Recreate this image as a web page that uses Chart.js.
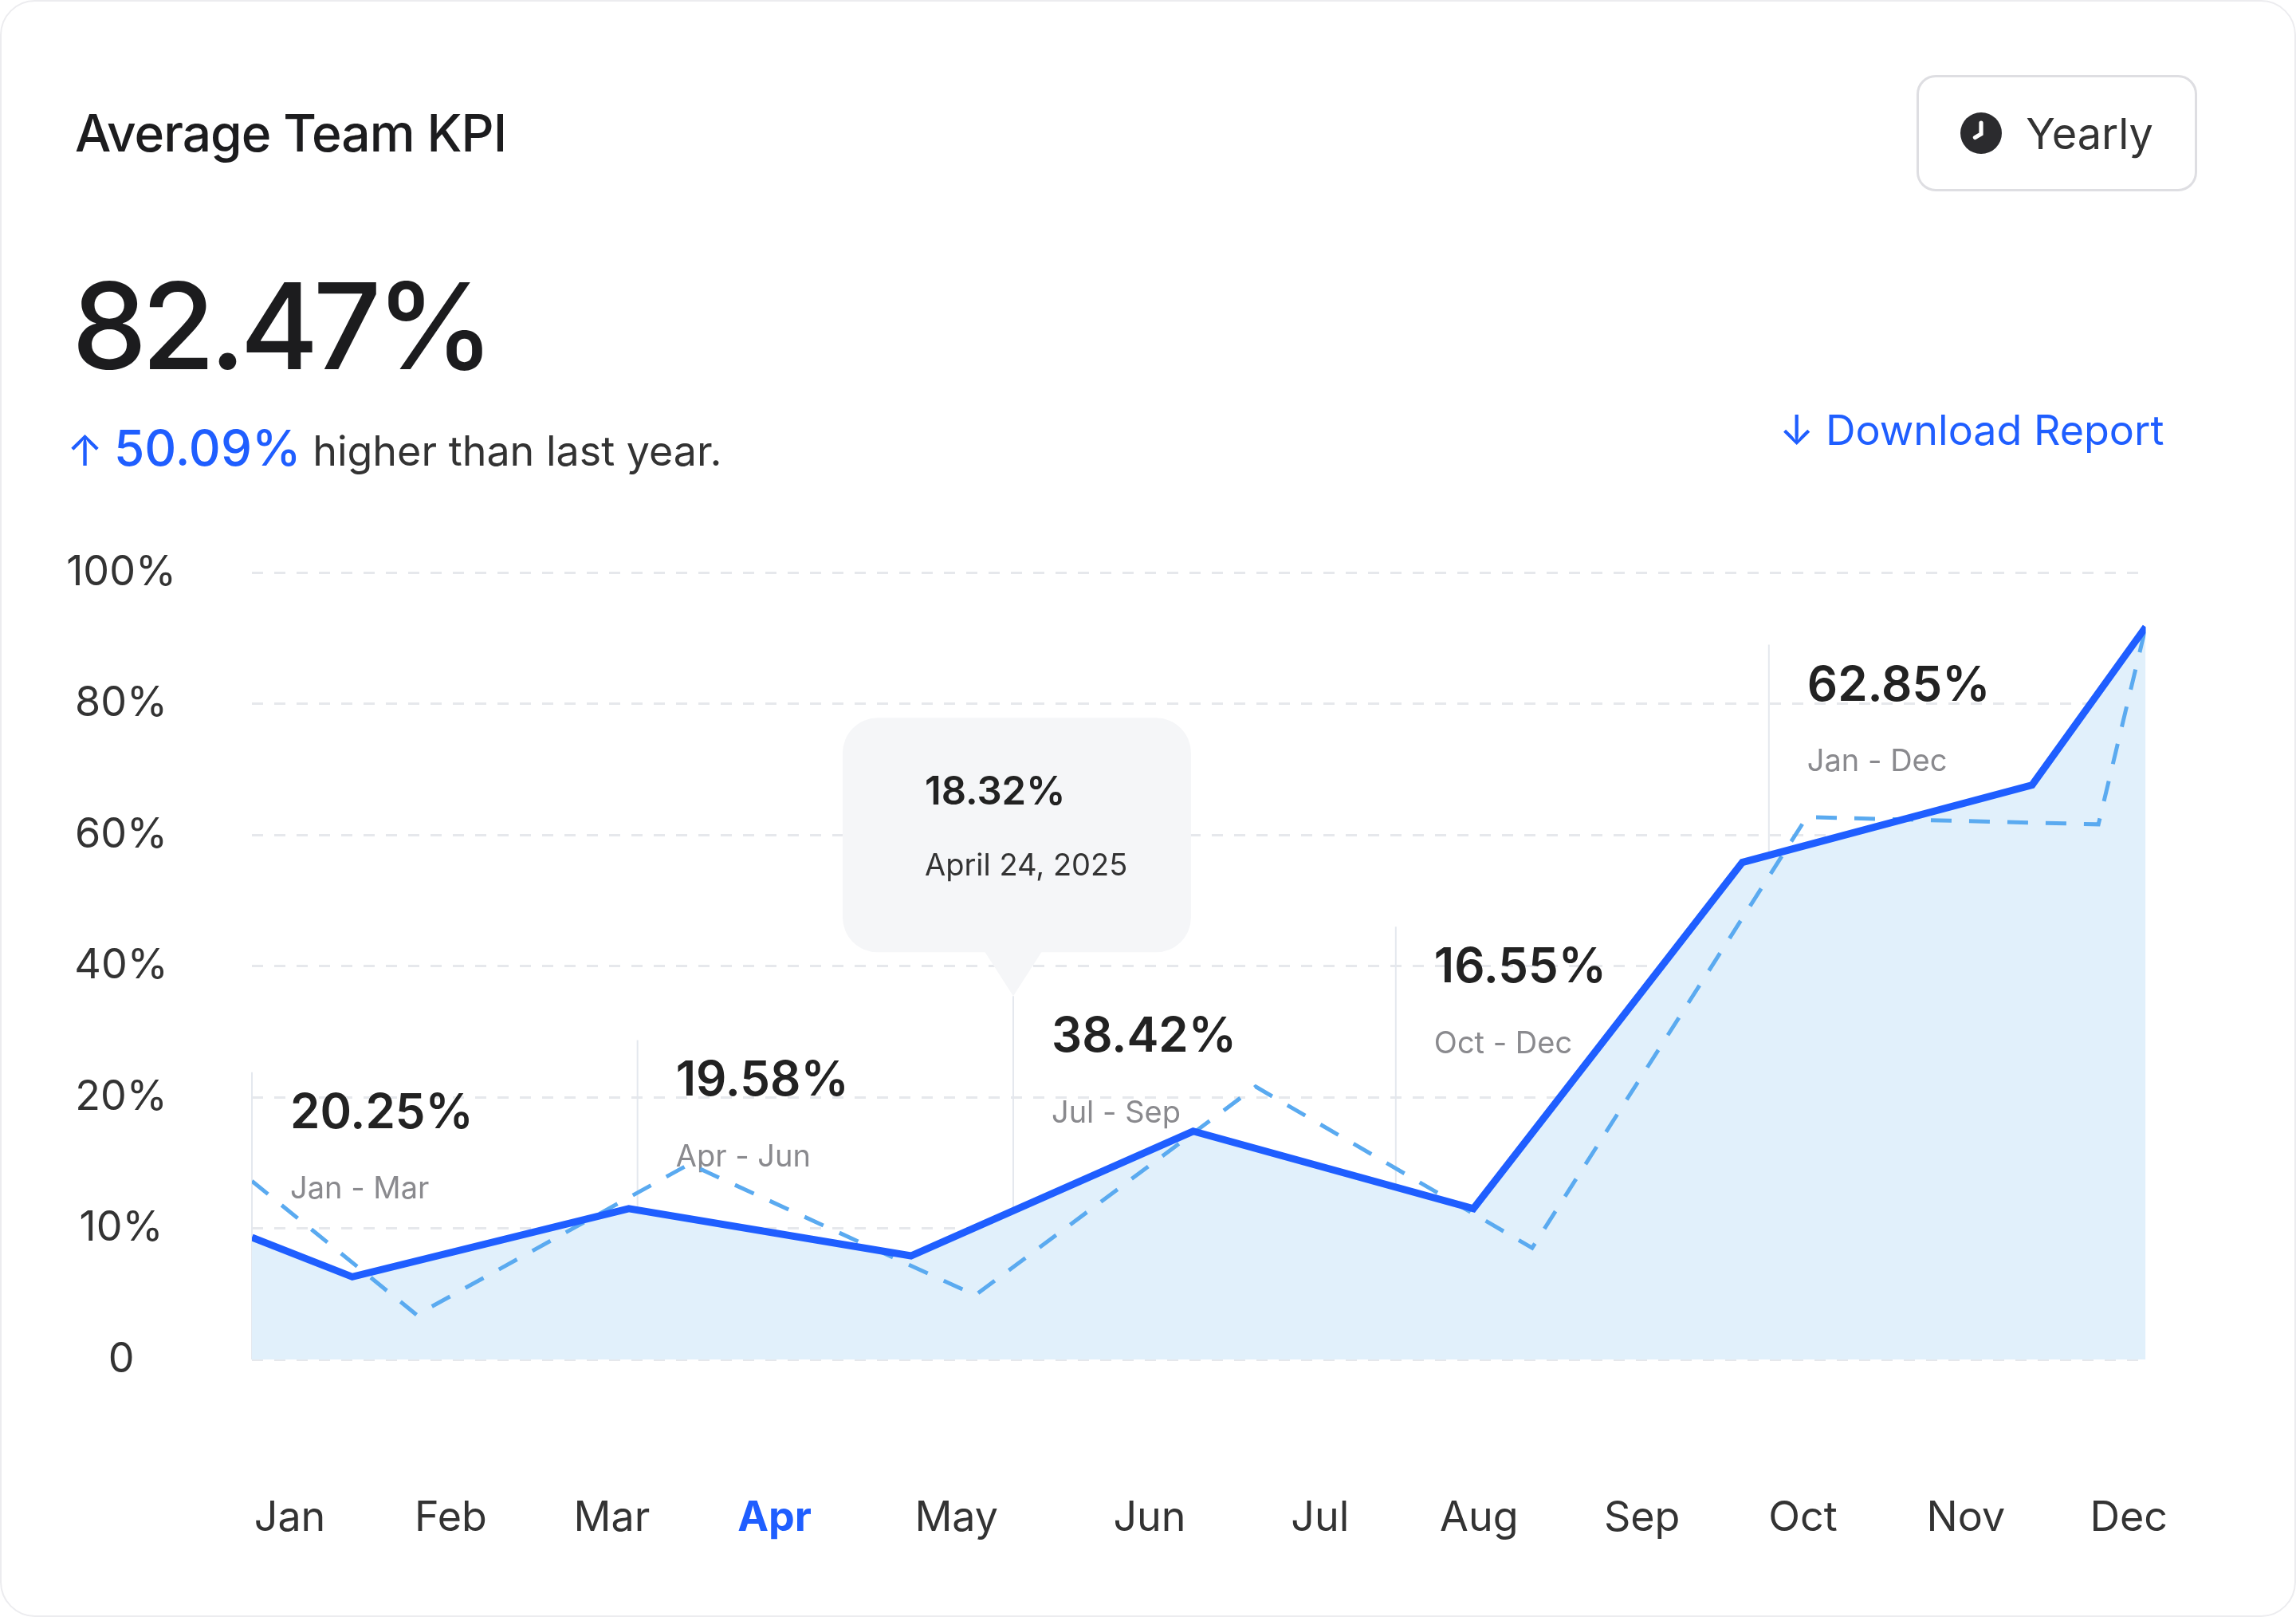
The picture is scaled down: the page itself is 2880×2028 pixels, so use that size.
<!DOCTYPE html>
<html><head><meta charset="utf-8">
<script src="https://cdn.jsdelivr.net/npm/chart.js@4"></script>
<style>
html,body{margin:0;padding:0;background:#fff;}
body{width:2880px;height:2028px;position:relative;overflow:hidden;font-family:Inter,"Noto Sans",sans-serif;color:#1c1c1e;}
.card{position:absolute;left:0;top:0;width:2876px;height:2024px;border:2px solid #ececef;border-radius:44px;}
#title{position:absolute;left:94px;top:128px;font-size:64px;font-weight:500;letter-spacing:-1px;}
#big{position:absolute;left:90px;top:318px;font-size:150px;font-weight:500;letter-spacing:-7px;}
#sub{position:absolute;left:84px;top:524px;font-size:52px;color:#333;}
#sub .up{color:#1f5eff;font-size:54px;margin-right:14px;}
#sub .pct{color:#1f5eff;font-size:62px;font-weight:500;}
#btn{position:absolute;left:2404px;top:94px;width:352px;height:146px;border:3px solid #dedee2;border-radius:24px;box-sizing:border-box;display:flex;align-items:center;justify-content:center;font-size:54px;color:#333;}
#btn svg{margin-right:30px;}
#dl{position:absolute;left:2232px;top:508px;font-size:52px;color:#1f5eff;}
canvas{position:absolute;left:0;top:0;}
</style></head><body>
<div class="card"></div>
<div id="title">Average Team KPI</div>
<div id="big">82.47%</div>
<div id="sub"><span class="up">↑</span><span class="pct">50.09%</span> higher than last year.</div>
<div id="btn"><svg width="52" height="52" viewBox="0 0 24 24"><circle cx="12" cy="12" r="12" fill="#2b2b2e"/><path d="M12 6v6.5l-3.5 2" stroke="#fff" stroke-width="2.4" fill="none" stroke-linecap="round"/></svg>Yearly</div>
<div id="dl">↓ Download Report</div>
<canvas id="c" width="2880" height="2028"></canvas>
<script>
// months and where their labels sit along the plot (0..1)
const months = ['Jan','Feb','Mar','Apr','May','Jun','Jul','Aug','Sep','Oct','Nov','Dec'];
const monthPos = [0.02,0.105,0.19,0.276,0.372,0.474,0.564,0.648,0.734,0.819,0.905,0.991];
const yTickLabels = ['0','10%','20%','40%','60%','80%','100%'];

// this year (solid) and last year (dashed), x as fraction of the year
const currentX = [0,0.053,0.199,0.348,0.497,0.645,0.787,0.94,1];
const currentY = [9.3,6.3,11.5,7.9,17.4,11.5,55.8,67.6,91.7];
const lastX = [0,0.087,0.231,0.382,0.53,0.676,0.821,0.975,1];
const lastY = [13.6,3.4,14.9,4.9,21.6,8.5,62.7,61.6,91.7];

// quarter markers
const qX = [0,0.2036,0.402,0.604,0.801];
const qTop = [23.8,28.7,35.4,46,89];
const qValue = ['20.25%','19.58%','38.42%','16.55%','62.85%'];
const qRange = ['Jan - Mar','Apr - Jun','Jul - Sep','Oct - Dec','Jan - Dec'];

const tipValue = '18.32%', tipDate = 'April 24, 2025', tipIndex = 2;

// y axis is piecewise: 0-20% in 10% steps, then 20% steps
function toU(p){ return p <= 20 ? p/10 : 2 + (p-20)/20; }
const pts = (xs, ys) => xs.map((x,i) => ({x, y: toU(ys[i])}));

const FONT = 'Inter, "Noto Sans", sans-serif';

const quarters = {
  id:'quarters',
  beforeDatasetsDraw(chart){
    const {ctx, scales:{x,y}} = chart;
    ctx.save();
    qX.forEach((q,i) => {
      const px = x.getPixelForValue(q), top = y.getPixelForValue(toU(qTop[i]));
      ctx.strokeStyle = '#e4e8ee'; ctx.lineWidth = 2;
      ctx.beginPath(); ctx.moveTo(px, top); ctx.lineTo(px, y.getPixelForValue(0)); ctx.stroke();
      ctx.textBaseline = 'middle'; ctx.textAlign = 'left';
      ctx.fillStyle = '#222'; ctx.font = `600 60px ${FONT}`;
      ctx.fillText(qValue[i], px + 48, top + 52);
      ctx.fillStyle = '#8a8a8e'; ctx.font = `38px ${FONT}`;
      ctx.fillText(qRange[i], px + 48, top + 147);
    });
    ctx.restore();
  },
  afterDatasetsDraw(chart){
    const {ctx, scales:{x,y}} = chart;
    const tx = x.getPixelForValue(qX[tipIndex]), ty = y.getPixelForValue(toU(qTop[tipIndex]));
    const w = 437, h = 294, bx = tx - 214, by = ty - 55 - h;
    ctx.save();
    ctx.fillStyle = '#f5f6f8';
    ctx.beginPath(); ctx.roundRect(bx, by, w, h, 44); ctx.fill();
    ctx.beginPath(); ctx.moveTo(tx-36, by+h-1); ctx.lineTo(tx, ty); ctx.lineTo(tx+36, by+h-1); ctx.fill();
    ctx.textBaseline = 'middle'; ctx.textAlign = 'left';
    ctx.fillStyle = '#222'; ctx.font = `600 49px ${FONT}`;
    ctx.fillText(tipValue, bx + 103, by + 94);
    ctx.fillStyle = '#333'; ctx.font = `38px ${FONT}`;
    ctx.fillText(tipDate, bx + 103, by + 186);
    ctx.restore();
  }
};

new Chart(document.getElementById('c'), {
  type:'line',
  data:{ datasets:[
    { data: pts(currentX,currentY), borderWidth:0, pointRadius:0, fill:'origin', backgroundColor:'#e1f0fb', order:3 },
    { data: pts(lastX,lastY), borderColor:'#5aaaf0', borderWidth:5, borderDash:[26,22], pointRadius:0, fill:false, order:2 },
    { data: pts(currentX,currentY), borderColor:'#1f5eff', borderWidth:9, pointRadius:0, fill:false, order:1, borderJoinStyle:'miter' }
  ]},
  options:{
    responsive:false, animation:false,
    layout:{ padding:{ left:0, right:119, top:718, bottom:0 } },
    plugins:{ legend:{display:false}, tooltip:{enabled:false} },
    scales:{
      x:{ type:'linear', min:0, max:1,
        afterFit(s){ s.height = 323; },
        afterBuildTicks(s){ s.ticks = monthPos.map(v => ({value:v})); },
        grid:{display:false}, border:{display:false},
        ticks:{ padding:160, autoSkip:false, maxRotation:0,
          callback:(v,i) => months[i],
          color:c => c.index === 3 ? '#1f5eff' : '#333',
          font:c => ({ family:FONT, size:52, weight: c.index === 3 ? '700' : '400' }) } },
      y:{ min:0, max:6,
        afterFit(s){ s.width = 316; },
        afterBuildTicks(s){ s.ticks = yTickLabels.map((_,i) => ({value:i})); },
        grid:{ color:'#e6e8ec', lineWidth:3, drawTicks:false }, border:{display:false, dash:[14,14]},
        ticks:{ padding:95, crossAlign:'center', color:'#333', font:{family:FONT,size:52},
          callback:(v,i) => yTickLabels[i] } }
    }
  },
  plugins:[quarters]
});
</script>
</body></html>
